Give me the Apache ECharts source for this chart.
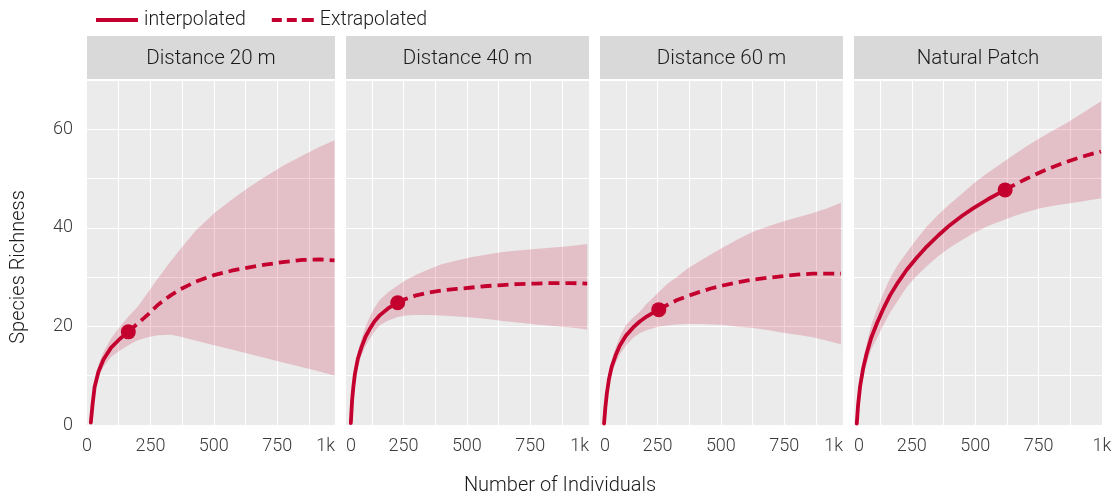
<!DOCTYPE html>
<html><head><meta charset="utf-8">
<script src="https://cdn.jsdelivr.net/npm/echarts@6/dist/echarts.min.js"></script>
<style>html,body{margin:0;padding:0;background:#fff}#c{width:1115px;height:498px}</style>
</head><body><div id="c"></div>
<script>
// ---------- data ----------
const panelTitles = ['Distance 20 m', 'Distance 40 m', 'Distance 60 m', 'Natural Patch'];
const xTickValues = [0, 250, 500, 750, 1000];
const xTickLabels = ['0', '250', '500', '750', '1k'];
const yTickValues = [0, 20, 40, 60];
const xRanges = [[0, 978], [23, 982], [23, 982], [22, 1000]];

const x20   = [15, 22, 30, 45, 65, 95, 130, 163, 200, 240, 280, 330, 370, 430, 500, 570, 640, 710, 780, 850, 920, 976];
const est20 = [0.5, 4.2, 7.7, 10.8, 13.3, 15.7, 17.5, 18.9, 20.6, 22.4, 24.4, 26.3, 27.6, 29.1, 30.4, 31.3, 32.0, 32.6, 33.1, 33.5, 33.6, 33.4];
const lo20  = [0.5, 3.6, 6.6, 9.6, 11.8, 13.8, 15.1, 16.2, 17.2, 17.8, 18.2, 18.3, 17.9, 17.1, 16.2, 15.3, 14.4, 13.5, 12.6, 11.7, 10.8, 10.0];
const hi20  = [0.5, 4.8, 8.8, 12.2, 14.8, 17.6, 20.0, 22.0, 24.0, 26.9, 29.8, 33.2, 35.8, 39.5, 42.9, 45.7, 48.3, 50.6, 52.8, 54.7, 56.5, 57.8];
const obs20 = 163;

const x40   = [42, 47, 52, 58, 70, 85, 100, 118, 135, 157, 190, 227, 260, 300, 350, 400, 460, 520, 580, 640, 700, 770, 840, 910, 975];
const est40 = [0.4, 5.0, 7.7, 10.3, 13.5, 15.9, 17.9, 19.6, 21.0, 22.3, 23.7, 24.8, 25.6, 26.3, 26.9, 27.3, 27.6, 27.9, 28.2, 28.4, 28.6, 28.7, 28.8, 28.8, 28.7];
const lo40  = [0.4, 4.4, 6.8, 9.2, 12.0, 14.2, 16.0, 17.6, 18.9, 20.3, 21.2, 21.9, 22.2, 22.3, 22.3, 22.2, 22.0, 21.8, 21.5, 21.1, 20.8, 20.4, 20.1, 19.8, 19.4];
const hi40  = [0.4, 5.6, 8.6, 11.4, 15.0, 17.6, 20.0, 22.0, 23.8, 25.4, 27.0, 28.3, 29.4, 30.5, 31.6, 32.6, 33.4, 34.1, 34.6, 35.1, 35.4, 35.7, 36.0, 36.3, 36.7];
const obs40 = 227;

const x60   = [39, 44, 50, 58, 69, 85, 102, 125, 154, 180, 207, 230, 255, 290, 325, 370, 417, 460, 508, 560, 627, 690, 745, 800, 863, 920, 974];
const est60 = [0.3, 3.5, 6.4, 9.2, 11.8, 14.2, 16.2, 18.1, 19.8, 21.0, 22.0, 22.7, 23.4, 24.4, 25.3, 26.2, 27.0, 27.7, 28.3, 28.9, 29.5, 29.9, 30.2, 30.5, 30.7, 30.7, 30.7];
const lo60  = [0.3, 3.1, 5.7, 8.2, 10.5, 12.6, 14.4, 16.1, 17.7, 18.6, 19.2, 19.6, 20.0, 20.2, 20.4, 20.5, 20.5, 20.4, 20.3, 20.0, 19.7, 19.2, 18.7, 18.3, 17.8, 17.1, 16.4];
const hi60  = [0.3, 3.9, 7.1, 10.2, 13.1, 15.8, 18.0, 20.3, 21.8, 23.0, 24.6, 25.7, 27.0, 28.7, 30.0, 31.8, 33.3, 34.6, 36.0, 37.5, 39.2, 40.4, 41.3, 42.1, 43.0, 44.0, 45.1];
const obs60 = 255;

const xNP   = [33, 38, 46, 58, 72, 90, 112, 135, 164, 195, 230, 270, 309, 355, 401, 450, 493, 550, 618, 660, 704, 757, 809, 860, 914, 960, 996];
const estNP = [0.3, 4.0, 7.8, 11.5, 14.5, 17.7, 20.6, 23.3, 26.3, 28.9, 31.5, 34.0, 36.2, 38.5, 40.6, 42.5, 44.0, 45.8, 47.7, 48.9, 50.0, 51.3, 52.4, 53.4, 54.3, 55.0, 55.5];
const loNP  = [0.3, 3.5, 6.6, 9.7, 12.5, 15.3, 17.5, 20.0, 22.8, 25.2, 28.0, 30.3, 32.2, 34.3, 36.0, 37.6, 38.9, 40.4, 41.7, 42.5, 43.2, 44.0, 44.5, 44.9, 45.3, 45.7, 46.0];
const hiNP  = [0.3, 4.5, 9.0, 13.3, 16.6, 20.3, 23.4, 26.4, 29.8, 32.5, 35.0, 37.8, 40.3, 42.7, 44.9, 47.0, 49.0, 51.2, 53.6, 55.1, 56.6, 58.3, 59.8, 61.3, 63.0, 64.5, 65.7];
const obsNP = 618;

// ---------- layout & style ----------
const RED = '#C4002F';
const BAND = 'rgba(196,0,47,0.18)';
const FONT = 'Roboto';
const FW = 300;
const L = [87, 346, 600, 854];
const W = [248, 243, 243, 248];
const TOP = 80, H = 345;
const STRIP_TOP = 36, STRIP_H = 43;
const X_GRID_STEP = 125;

const panels = [
  {x: x20, est: est20, lo: lo20, hi: hi20, obs: obs20},
  {x: x40, est: est40, lo: lo40, hi: hi40, obs: obs40},
  {x: x60, est: est60, lo: lo60, hi: hi60, obs: obs60},
  {x: xNP, est: estNP, lo: loNP, hi: hiNP, obs: obsNP}
];

const grids = [], xAxes = [], yAxes = [], series = [], graphics = [];
panels.forEach((p, i) => {
  grids.push({left: L[i], top: TOP, width: W[i], height: H, show: true,
    backgroundColor: '#EBEBEB', borderWidth: 0, containLabel: false});
  const [xmin, xmax] = xRanges[i];
  const clamp = v => Math.min(xmax, Math.max(xmin, v));
  const labelVals = xTickValues.map(clamp);
  const gridVals = [];
  for (let v = X_GRID_STEP; v < xmax; v += X_GRID_STEP) if (v > xmin) gridVals.push(v);
  xAxes.push({
    type: 'value', gridIndex: i, min: xmin, max: xmax,
    axisLine: {show: false},
    axisTick: {show: false, customValues: gridVals},
    splitLine: {show: true, lineStyle: {color: '#FFFFFF', width: 1.1}},
    axisLabel: {
      customValues: labelVals,
      formatter: v => xTickLabels[labelVals.indexOf(v)],
      fontSize: 18, fontWeight: FW, color: '#3A3A3A', fontFamily: FONT, margin: 12,
      showMinLabel: true, showMaxLabel: true, hideOverlap: false,
      alignMinLabel: xmin > xTickValues[0] ? 'left' : 'center',
      alignMaxLabel: xmax < xTickValues[xTickValues.length - 1] ? 'right' : 'center'
    }
  });
  yAxes.push({
    type: 'value', gridIndex: i, min: 0, max: 70, interval: 10,
    axisLine: {show: false}, axisTick: {show: false},
    splitLine: {show: true, lineStyle: {color: '#FFFFFF', width: 1.1}},
    axisLabel: {show: i === 0, customValues: yTickValues, fontSize: 18, fontWeight: FW,
      color: '#3A3A3A', fontFamily: FONT, margin: 14}
  });
  // confidence band
  series.push({
    type: 'custom', xAxisIndex: i, yAxisIndex: i, silent: true, z: 1,
    data: p.x.map((v, k) => [v, p.lo[k], p.hi[k]]),
    encode: {x: 0, y: [1, 2]},
    renderItem: (params, api) => {
      if (params.dataIndexInside !== 0) return null;
      const n = params.dataInsideLength;
      const up = [], dn = [];
      for (let k = 0; k < n; k++) {
        up.push(api.coord([api.value(0, k), api.value(2, k)]));
        dn.push(api.coord([api.value(0, k), api.value(1, k)]));
      }
      return {type: 'polygon', shape: {points: up.concat(dn.reverse())}, style: {fill: BAND}};
    }
  });
  const pts = p.x.map((v, k) => [v, p.est[k]]);
  series.push({
    name: 'interpolated', type: 'line', xAxisIndex: i, yAxisIndex: i, z: 3,
    data: pts.filter(d => d[0] <= p.obs), showSymbol: false, symbol: 'none',
    smooth: false, color: RED, itemStyle: {color: RED},
    lineStyle: {color: RED, width: 3.8, cap: 'round', join: 'round'}
  });
  series.push({
    name: 'Extrapolated', type: 'line', xAxisIndex: i, yAxisIndex: i, z: 3,
    data: pts.filter(d => d[0] >= p.obs), showSymbol: false, symbol: 'none',
    smooth: false, color: RED, itemStyle: {color: RED},
    lineStyle: {color: RED, width: 3.8, type: [11, 6], cap: 'butt', join: 'round'}
  });
  series.push({
    type: 'scatter', xAxisIndex: i, yAxisIndex: i, z: 5, symbolSize: 15,
    data: pts.filter(d => d[0] === p.obs), itemStyle: {color: RED, opacity: 1}
  });
  // strip
  graphics.push({type: 'rect', shape: {x: L[i], y: STRIP_TOP, width: W[i], height: STRIP_H},
    style: {fill: '#D9D9D9'}, silent: true});
  graphics.push({type: 'text', x: L[i] + W[i] / 2, y: STRIP_TOP + STRIP_H / 2 + 1, silent: true,
    style: {text: panelTitles[i], fill: '#1A1A1A', font: FW + ' 20.5px ' + FONT, align: 'center', verticalAlign: 'middle'}});
});

graphics.push({type: 'text', x: 560, y: 486, silent: true,
  style: {text: 'Number of Individuals', fill: '#1A1A1A', font: FW + ' 20px ' + FONT, align: 'center', verticalAlign: 'middle'}});
graphics.push({type: 'text', x: 19, y: 267, rotation: Math.PI / 2, silent: true,
  style: {text: 'Species Richness', fill: '#1A1A1A', font: FW + ' 20px ' + FONT, align: 'center', verticalAlign: 'middle'}});

const chart = echarts.init(document.getElementById('c'), null, {renderer: 'canvas'});
chart.setOption({
  animation: false,
  backgroundColor: '#FFFFFF',
  textStyle: {fontFamily: FONT},
  grid: grids, xAxis: xAxes, yAxis: yAxes,
  legend: {
    left: 91, top: 5, itemWidth: 42, itemHeight: 4, itemGap: 26,
    itemStyle: {borderWidth: 0},
    textStyle: {fontSize: 19.5, fontWeight: FW, color: '#1A1A1A', fontFamily: FONT, padding: [0, 0, 0, 1]},
    data: [
      {name: 'interpolated', icon: 'path://M0,0H42V4H0Z'},
      {name: 'Extrapolated', icon: 'path://M0,0H10V4H0Z M15,0H25V4H15Z M30,0H42V4H30Z'}
    ]
  },
  graphic: graphics,
  series: series
});
</script></body></html>
